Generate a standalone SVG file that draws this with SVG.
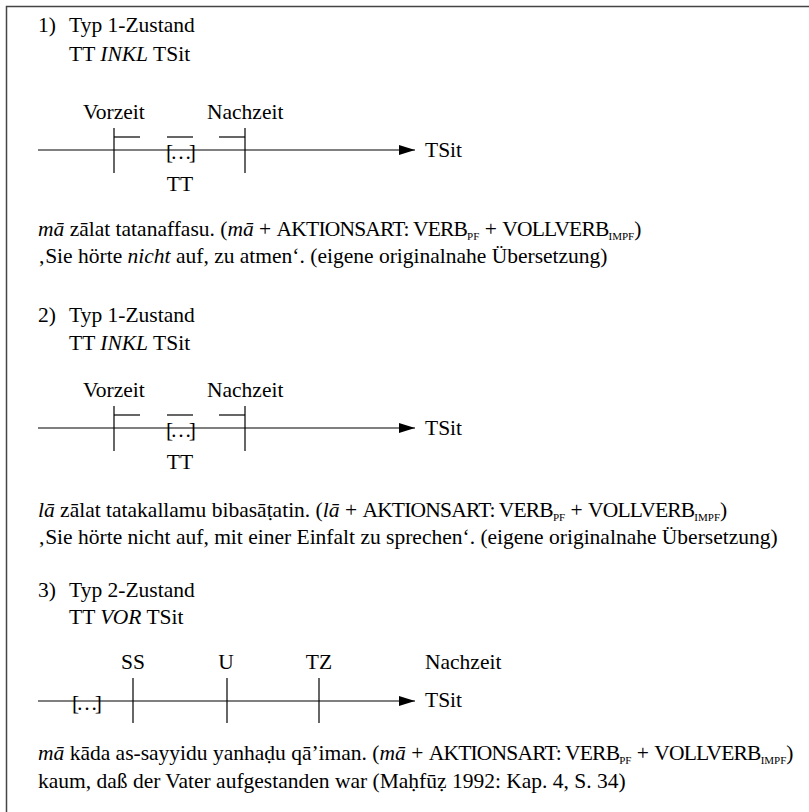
<svg xmlns="http://www.w3.org/2000/svg" width="809" height="812" viewBox="0 0 809 812" font-family="'Liberation Serif', 'DejaVu Serif', serif">
<defs>
<style>
text{font-family:'Liberation Serif','DejaVu Serif',serif;font-size:21.5px;fill:#000}
.i{font-style:italic}
.sub{font-size:11px}
.cp{letter-spacing:-0.8px}
.el{letter-spacing:-3px}
.ln{stroke:#000;stroke-width:1.2;fill:none}
.ax{stroke:#000;stroke-width:1.2;fill:none;marker-end:url(#ah)}
.frame{stroke:#444;stroke-width:1.5;fill:none}
.c{text-anchor:middle}
</style>
<marker id="ah" viewBox="0 0 16 10" refX="16" refY="5" markerWidth="16" markerHeight="10" markerUnits="userSpaceOnUse" orient="auto">
<path d="M0,0 L16,5 L0,10 Z" fill="#000"/>
</marker>
</defs>
<rect width="809" height="812" fill="#fff"/>
<path class="frame" d="M6.5,812 V6.5 H809"/>

<g id="connectors">
<line class="ax" x1="38" y1="150" x2="415" y2="150"/>
<line class="ln" x1="114" y1="128" x2="114" y2="173"/>
<line class="ln" x1="245" y1="128" x2="245" y2="173"/>
<line class="ln" x1="114" y1="137" x2="140" y2="137"/>
<line class="ln" x1="167" y1="137" x2="193" y2="137"/>
<line class="ln" x1="219" y1="137" x2="245" y2="137"/>
<line class="ax" x1="38" y1="428" x2="415" y2="428"/>
<line class="ln" x1="114" y1="406" x2="114" y2="451"/>
<line class="ln" x1="245" y1="406" x2="245" y2="451"/>
<line class="ln" x1="114" y1="415" x2="140" y2="415"/>
<line class="ln" x1="167" y1="415" x2="193" y2="415"/>
<line class="ln" x1="219" y1="415" x2="245" y2="415"/>
<line class="ax" x1="38" y1="701" x2="415" y2="701"/>
<line class="ln" x1="133" y1="678" x2="133" y2="723"/>
<line class="ln" x1="227" y1="678" x2="227" y2="723"/>
<line class="ln" x1="319" y1="678" x2="319" y2="723"/>
</g>

<g id="section1">
<text x="38" y="32">1)</text>
<text x="69" y="32">Typ 1-Zustand</text>
<text x="69" y="61">TT <tspan class="i">INKL</tspan> TSit</text>
<text x="83" y="119">Vorzeit</text>
<text x="207" y="119">Nachzeit</text>
<text x="166" y="159" class="el">[…]</text>
<text x="180" y="191" class="c">TT</text>
<text x="425" y="157">TSit</text>
<text x="38" y="236"><tspan class="i">mā</tspan> zālat tatanaffasu. (<tspan class="i">mā</tspan> + <tspan class="cp">AKTIONSART: VERB</tspan><tspan class="sub" dy="4">PF</tspan><tspan dy="-4"> + </tspan><tspan class="cp">VOLLVERB</tspan><tspan class="sub" dy="4">IMPF</tspan><tspan dy="-4">)</tspan></text>
<text x="38" y="263">‚Sie hörte <tspan class="i">nicht</tspan> auf, zu atmen‘. (eigene originalnahe Übersetzung)</text>
</g>

<g id="section2">
<text x="38" y="322">2)</text>
<text x="69" y="322">Typ 1-Zustand</text>
<text x="69" y="350">TT <tspan class="i">INKL</tspan> TSit</text>
<text x="83" y="397">Vorzeit</text>
<text x="207" y="397">Nachzeit</text>
<text x="166" y="437" class="el">[…]</text>
<text x="180" y="469" class="c">TT</text>
<text x="425" y="435">TSit</text>
<text x="38" y="517"><tspan class="i">lā</tspan> zālat tatakallamu bibasāṭatin. (<tspan class="i">lā</tspan> + <tspan class="cp">AKTIONSART: VERB</tspan><tspan class="sub" dy="4">PF</tspan><tspan dy="-4"> + </tspan><tspan class="cp">VOLLVERB</tspan><tspan class="sub" dy="4">IMPF</tspan><tspan dy="-4">)</tspan></text>
<text x="38" y="544">‚Sie hörte nicht auf, mit einer Einfalt zu sprechen‘. (eigene originalnahe Übersetzung)</text>
</g>

<g id="section3">
<text x="38" y="597">3)</text>
<text x="69" y="597">Typ 2-Zustand</text>
<text x="69" y="624">TT <tspan class="i">VOR</tspan> TSit</text>
<text x="133" y="669" class="c">SS</text>
<text x="226" y="669" class="c">U</text>
<text x="319" y="669" class="c">TZ</text>
<text x="425" y="669">Nachzeit</text>
<text x="72" y="710" class="el">[…]</text>
<text x="425" y="707">TSit</text>
<text x="38" y="760"><tspan class="i">mā</tspan> kāda as-sayyidu yanhaḍu qā’iman. (<tspan class="i">mā</tspan> + <tspan class="cp">AKTIONSART: VERB</tspan><tspan class="sub" dy="4">PF</tspan><tspan dy="-4"> + </tspan><tspan class="cp">VOLLVERB</tspan><tspan class="sub" dy="4">IMPF</tspan><tspan dy="-4">)</tspan></text>
<text x="38" y="788">kaum, daß der Vater aufgestanden war (Maḥfūẓ 1992: Kap. 4, S. 34)</text>
</g>
</svg>
